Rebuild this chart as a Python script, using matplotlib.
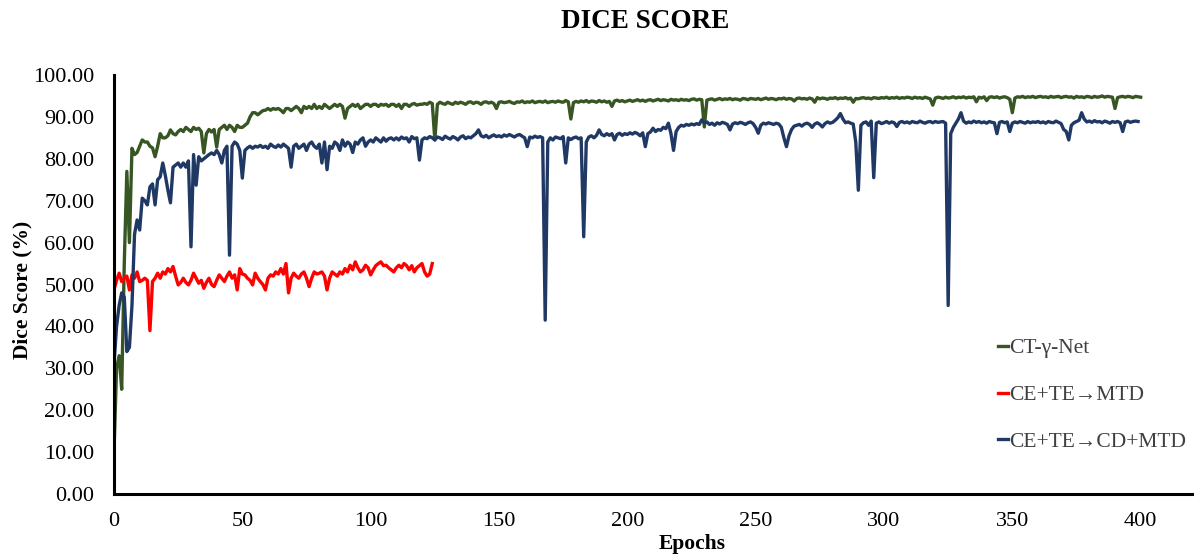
import matplotlib
matplotlib.use("Agg")
import matplotlib.pyplot as plt
import numpy as np

# ---------------- data ----------------
green_vals = [
    10, 30, 33, 25, 55, 77, 60, 82.5, 81, 81.5,
    83, 84.5, 84, 84, 83, 82.6, 80.5, 83, 86, 85,
    85, 85.5, 86.9, 86, 85.7, 86.5, 87, 86.5, 87.5, 87,
    86.5, 87.5, 87, 87.3, 86.5, 81.4, 86, 87, 86.4, 87,
    82.8, 87, 87.5, 88, 87, 88, 87.5, 86.5, 88, 87.5,
    87.5, 88, 88.5, 90, 91, 91, 90.5, 91, 91.5, 91.6,
    92, 91.6, 92, 91.8, 92, 91.6, 91, 92, 92, 91.5,
    92, 92.5, 92, 91, 92.5, 92, 92.5, 92, 93, 92,
    92.5, 92, 93, 92.5, 92, 92.5, 93, 92.5, 93, 92.5,
    89.7, 92, 92.5, 93, 92.5, 93, 92, 92.5, 93, 93,
    92.5, 93, 93, 92.5, 93, 92.8, 93, 92.5, 93, 93,
    92.5, 93, 92, 93, 93, 92.5, 93, 93.2, 92.8, 93,
    93, 93.2, 93, 93.5, 93.2, 84.5, 93, 93.5, 93.2, 93,
    93.5, 93.2, 93, 93.5, 93.2, 93.5, 93.3, 93, 93.5, 93.6,
    93.2, 93.5, 93.4, 93, 93.5, 93.6, 93.3, 93.5, 93.2, 92,
    93.5, 93.6, 93.4, 93.5, 93.7, 93.4, 93.2, 93.6, 93.5, 93.8,
    93.4, 93.6, 93.5, 93.8, 93.4, 93.6, 93.7, 93.5, 93.8, 93.4,
    93.6, 93.7, 93.5, 93.8, 93.6, 93.5, 93.9, 93.6, 89.5, 93.4,
    93.7, 93.5, 93.8, 93.6, 93.9, 93.5, 93.8, 93.7, 93.5, 93.9,
    93.6, 93.8, 93.5, 93.7, 92.5, 93.8, 94, 93.7, 93.9, 93.6,
    93.8, 94, 93.7, 93.9, 94.1, 93.8, 94, 93.7, 94, 94.1,
    93.8, 94, 94.2, 93.9, 94.1, 94, 93.8, 94.2, 94, 94.1,
    93.9, 94.2, 94, 94.1, 93.9, 94.2, 94.3, 94, 94.2, 94.1,
    87.6, 94, 94.2, 94.3, 94, 94.2, 94.4, 94.1, 94.3, 94.2,
    94.4, 94.1, 94.3, 94.2, 94, 94.4, 94.3, 94.1, 94.4, 94.3,
    94.2, 94.4, 94.1, 94.3, 94.5, 94.2, 94.4, 94.3, 94.1, 94.4,
    94.3, 94.5, 94.2, 94.4, 94.3, 93.8, 94.4, 94.5, 94.3, 94.4,
    94.2, 94.5, 94.3, 93.5, 94.6, 94.3, 94.5, 94.4, 94.2, 94.5,
    94.4, 94.6, 94.3, 94.5, 94.4, 94.6, 94.3, 94.5, 93.5, 94.4,
    94.3, 94.5, 94.6, 94.4, 94.5, 94.3, 94.6, 94.5, 94.4, 94.6,
    94.5, 94.7, 94.4, 94.6, 94.5, 94.7, 94.4, 94.6, 94.5, 94.7,
    94.6, 94.4, 94.7, 94.5, 94.6, 94.4, 94.7, 94.5, 94.3, 92.8,
    94.5, 94.7, 94.6, 94.4, 94.7, 94.5, 94.6, 94.8, 94.5, 94.7,
    94.6, 94.8, 94.5, 94.7, 94.6, 94.8, 93.6, 94.7, 94.5, 94.8,
    93.9, 94.7, 94.8, 94.6, 94.8, 94.5, 94.7, 94.8, 94.6, 94.2,
    91, 94.5, 94.8, 94.7, 94.9, 94.6, 94.8, 94.7, 94.9, 94.6,
    94.8, 94.9, 94.7, 94.8, 94.6, 94.9, 94.7, 94.8, 94.9, 94.6,
    94.8, 94.9, 94.7, 94.8, 94.5, 94.9, 94.7, 94.8, 94.6, 94.9,
    94.8, 94.6, 94.9, 94.7, 94.8, 95, 94.7, 94.9, 94.8, 94.7,
    92, 94.6, 94.8, 94.9, 94.7, 94.9, 94.8, 94.6, 94.9, 94.8,
    94.7,
]

red_vals = [
    48.7, 51, 52.7, 50.7, 51.5, 52, 48.7, 52.3, 51.5, 53,
    50.7, 51, 51.5, 51, 39, 50.7, 51.5, 52.7, 51.5, 53,
    52.5, 53.8, 53, 54.3, 52, 49.9, 50.5, 51.5, 50.5, 49.9,
    51, 52.7, 51.5, 50.3, 51, 49.1, 50.5, 51.5, 50, 49.5,
    51, 52.3, 51.5, 50.7, 52, 53, 51.5, 52.3, 48.7, 53.8,
    52.5, 52.3, 51.5, 51, 49.9, 52.7, 51.5, 50.7, 50, 48.7,
    51.5, 52.3, 52, 53, 52.5, 53.8, 52.5, 55, 48, 51.5,
    52.7, 52, 51.5, 52.5, 53, 51.5, 49.5, 51.5, 53, 52.5,
    52.7, 53, 52, 48.7, 51.5, 53, 52.5, 52, 53, 52.5,
    53.8, 53, 54.6, 53.5, 55.4, 54, 53, 53.5, 54.6, 54,
    52.3, 53.5, 54.5, 55, 55.4, 54.5, 54.6, 54, 53.5, 53,
    54, 54.6, 54, 55, 54.5, 53.5, 54.5, 53, 54, 54.5,
    55, 53, 52, 52.5, 55,
]

blue_vals = [
    31, 40, 45, 48, 47, 34, 35, 45, 62, 65.4,
    63, 70.6, 70, 69, 73.3, 74, 69, 75, 75.7, 79,
    76, 72.5, 69.5, 78, 78.5, 79, 78, 79, 78, 79.5,
    59, 81, 73.7, 80.5, 79.5, 80, 80.5, 81, 81.4, 81,
    82, 81, 79, 82, 83, 57, 83, 84, 83.5, 82,
    75.4, 82, 82.6, 83, 82.5, 83, 82.8, 83.2, 82.7, 83,
    82.5, 83.5, 83, 82.7, 83.3, 82.8, 83.5, 83, 82.5, 78,
    83, 83.5, 82.5, 83, 83.5, 82, 83.5, 84, 83, 82.5,
    83.5, 79, 84, 77.4, 83, 82.5, 84, 83.5, 82, 84.5,
    83, 84, 83.5, 81.5, 84, 83.5, 84.5, 85, 83, 84,
    84.5, 84, 85, 84.5, 84, 85, 84.2, 84.8, 85, 84.5,
    85, 84.5, 85.2, 84.8, 85, 84, 85.3, 84.8, 85, 79.7,
    84.5, 85, 84.8, 85.3, 85, 84.5, 85.2, 85, 84.6, 85.4,
    85, 84.7, 85.3, 85, 84.5, 85.2, 85.5, 84.8, 85.2, 85,
    85.5, 86, 86.9, 85.5, 85.2, 85.6, 85, 85.4, 85.7, 85.3,
    85.5, 85.2, 85.7, 85.4, 85.8, 85.5, 85.2, 85.6, 85.8, 85.4,
    85, 82.9, 85.2, 85, 85.4, 85.1, 85.3, 85, 41.5, 84,
    85, 84.5, 85.2, 85, 84.8, 85.3, 79, 85, 84.6, 85,
    85.2, 84.8, 85, 61.4, 84, 85.2, 85.5, 85, 85.6, 86.9,
    85.8, 85.5, 86, 85.6, 86, 84.5, 85.8, 86.1, 85.6, 86,
    85.8, 86.2, 85.9, 86.3, 86, 85.5, 86.2, 82.9, 86, 86.4,
    87.3, 86.5, 87, 86.8, 87.5, 87.2, 88.5, 86, 82, 86.5,
    87.5, 88, 87.8, 88.2, 88, 88.3, 88.1, 88.4, 88.2, 89.3,
    88.6, 88.8, 88.2, 88.5, 88, 88.6, 88.3, 88.7, 88.5, 88.2,
    86.9, 88.3, 88.6, 88.4, 88.7, 88.5, 88.2, 88.6, 88.8, 88.4,
    87.5, 86.1, 88, 88.5, 88.3, 88.6, 88.4, 88.2, 88.5, 88.3,
    87.5, 85, 82.9, 85.5, 87, 87.8, 88, 88.2, 87.8, 88.3,
    88.5, 88.2, 87.5, 88.3, 88.6, 88.2, 87.6, 88.4, 88.8, 88.5,
    88.7, 89.2, 89.8, 90.8, 89.5, 88.6, 88.8, 88.5, 88.3, 84,
    72.5, 88, 88.6, 88.8, 88, 89, 75.5, 88.5, 88.8, 88.4,
    88.6, 88.9, 88.5, 88.8, 88.6, 87.7, 88.7, 88.9, 88.6, 88.8,
    88.5, 88.9, 88.7, 88.6, 89, 88.7, 88.5, 88.8, 88.9, 88.6,
    88.9, 88.7, 88.8, 88.9, 88.5, 45, 86, 87.5, 88.5, 89.5,
    91, 89, 88.5, 88.8, 88.6, 89, 88.7, 88.9, 88.6, 88.8,
    88.5, 88.9, 88.7, 88.6, 86, 88.7, 88.9, 88.6, 88.8, 86.5,
    88.5, 88.8, 88.6, 88.9, 88.7, 88.5, 88.9, 88.6, 88.8, 88.7,
    88.9, 88.6, 88.8, 88.5, 88.9, 88.7, 88.6, 89, 88.7, 88.4,
    87, 86.5, 84.5, 88, 88.6, 88.9, 89.2, 91, 89.5, 88.8,
    89, 88.7, 89.1, 88.8, 88.9, 88.6, 89, 88.8, 88.5, 88.9,
    88.7, 88.9, 88.6, 86.5, 88.8, 89, 88.7, 88.9, 89, 88.9,
]

series_names = ["CT-\u03b3-Net", "CE+TE\u2192MTD", "CE+TE\u2192CD+MTD"]
y_ticks = [0, 10, 20, 30, 40, 50, 60, 70, 80, 90, 100]
x_ticks = [0, 50, 100, 150, 200, 250, 300, 350, 400]

# ---------------- figure ----------------
plt.rcParams['font.family'] = ['Liberation Serif', 'DejaVu Serif']

fig = plt.figure(figsize=(11.94, 5.54), dpi=100)
ax = fig.add_axes([114/1194, 1 - 494/554, (1192-114)/1194, (494-75)/554])

lw = 2.4
ax.plot(np.arange(len(green_vals)), green_vals, color="#375623", lw=lw,
        label=series_names[0], solid_joinstyle='round')
ax.plot(np.arange(len(red_vals)), red_vals, color="#FF0000", lw=lw,
        label=series_names[1], solid_joinstyle='round')
ax.plot(np.arange(len(blue_vals)), blue_vals, color="#1F3864", lw=lw,
        label=series_names[2], solid_joinstyle='round')

ax.set_xlim(0, 420)
ax.set_ylim(0, 100)
ax.set_yticks(y_ticks)
ax.set_yticklabels([f"{v:.2f}" for v in y_ticks])
ax.set_xticks(x_ticks)
ax.set_xticklabels([str(v) for v in x_ticks])
ax.tick_params(axis='both', length=0, labelsize=16, colors='black')
ax.tick_params(axis='y', pad=14)
ax.tick_params(axis='x', pad=13)

for s in ['top', 'right']:
    ax.spines[s].set_visible(False)
for s in ['left', 'bottom']:
    ax.spines[s].set_linewidth(2.2)
    ax.spines[s].set_color('black')

fig.text(645/1194, 1 - 21/554, "DICE SCORE", ha='center', va='center',
         fontsize=19.5, fontweight='bold')
fig.text(22/1194, 1 - 290/554, "Dice Score (%)", ha='center', va='center',
         rotation=90, fontsize=15.5, fontweight='bold')
fig.text(692/1194, 1 - 544/554, "Epochs", ha='center', va='center',
         fontsize=15.5, fontweight='bold')

leg = ax.legend(loc='center left', bbox_to_anchor=(998/1194, 1 - 395/554),
                bbox_transform=fig.transFigure, frameon=False, fontsize=15.5,
                handlelength=0.45, handletextpad=0.05, labelspacing=1.25,
                borderpad=0, borderaxespad=0)
for t in leg.get_texts():
    t.set_color('#404040')
for h in leg.get_lines():
    h.set_linewidth(2.4)

fig.savefig("out.png", dpi=100)
